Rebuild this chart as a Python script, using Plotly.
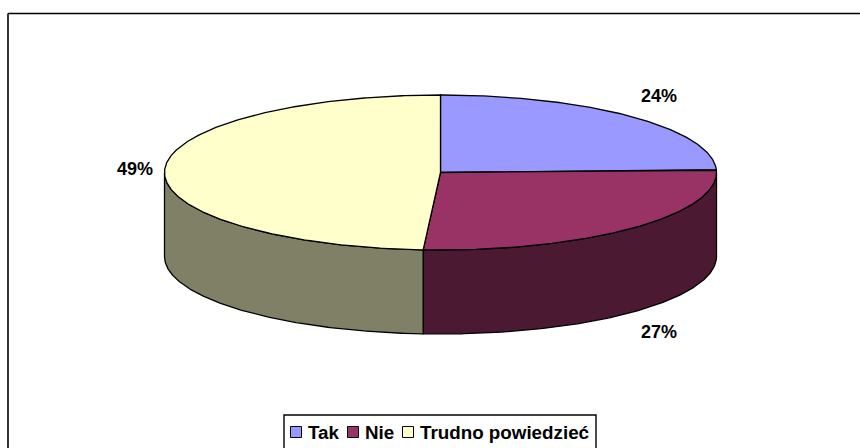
import numpy as np
import plotly.graph_objects as go

categories = ["Tak", "Nie", "Trudno powiedzieć"]
values = [24.4, 26.6, 49.0]
top_colors = ["#9999FF", "#993366", "#FFFFCC"]
side_colors = ["#4C4C80", "#4C1933", "#808066"]
label_xy = [(659, 96), (659, 332), (135, 169)]
legend_swatch_x = [296, 353, 408]
legend_text_x = [307.5, 365, 420]

W, H = 860, 448
CX, CY, RX, RY, DEPTH = 440.5, 172.5, 276, 77.5, 84
FONT = "Liberation Sans"


def arc(a0, a1, dy=0.0):
    t = np.radians(np.linspace(a0, a1, max(2, int(abs(a1 - a0) * 2) + 2)))
    return CX + RX * np.sin(t), CY + dy - RY * np.cos(t)


fig = go.Figure()
line = dict(color="#000000", width=1.3)
cum = np.concatenate([[0], np.cumsum(values)]) / np.sum(values) * 360

# sides (only the front half of the cylinder is visible)
for i, c in enumerate(categories):
    a0, a1 = max(cum[i], 90), min(cum[i + 1], 270)
    if a1 <= a0:
        continue
    x0, y0 = arc(a0, a1)
    x1, y1 = arc(a1, a0, DEPTH)
    fig.add_trace(go.Scatter(
        x=np.r_[x0, x1, x0[0]], y=np.r_[y0, y1, y0[0]], mode="lines",
        fill="toself", fillcolor=side_colors[i], line=line,
        hoverinfo="skip", showlegend=False))

# top faces
for i, c in enumerate(categories):
    x0, y0 = arc(cum[i], cum[i + 1])
    fig.add_trace(go.Scatter(
        x=np.r_[CX, x0, CX], y=np.r_[CY, y0, CY], mode="lines",
        fill="toself", fillcolor=top_colors[i], line=line,
        name=c, text=f"{c}: {values[i]:.0f}%", hoverinfo="text", showlegend=False))

# legend swatches
fig.add_trace(go.Scatter(
    x=legend_swatch_x, y=[432] * 3, mode="markers",
    marker=dict(symbol="square", size=11, color=top_colors,
                line=dict(color="#000000", width=1)),
    hoverinfo="skip", showlegend=False))

annotations = []
for i, c in enumerate(categories):
    annotations.append(dict(
        x=label_xy[i][0], y=label_xy[i][1], text=f"<b>{values[i]:.0f}%</b>",
        showarrow=False, xanchor="center", yanchor="middle",
        font=dict(family=FONT, size=18, color="#000000")))
    annotations.append(dict(
        x=legend_text_x[i], y=432, text=f"<b>{c}</b>",
        showarrow=False, xanchor="left", yanchor="middle", xshift=-2,
        font=dict(family=FONT, size=18.8, color="#000000")))

shapes = [
    dict(type="line", x0=8, x1=W, y0=13.5, y1=13.5, line=dict(color="#000000", width=1.6)),
    dict(type="line", x0=8, x1=8, y0=13.5, y1=H, line=dict(color="#000000", width=1.6)),
    dict(type="rect", x0=284, x1=596, y0=415, y1=H + 10,
         line=dict(color="#000000", width=1.4), fillcolor="#FFFFFF", layer="below"),
]

fig.update_layout(
    width=W, height=H, autosize=False,
    margin=dict(l=0, r=0, t=0, b=0),
    paper_bgcolor="#FFFFFF", plot_bgcolor="#FFFFFF",
    xaxis=dict(range=[0, W], visible=False, fixedrange=True),
    yaxis=dict(range=[H, 0], visible=False, fixedrange=True),
    showlegend=False,
    shapes=shapes, annotations=annotations,
)
fig.write_html("out.html", config={"displayModeBar": False},
               post_script="document.body.style.margin='0';")
